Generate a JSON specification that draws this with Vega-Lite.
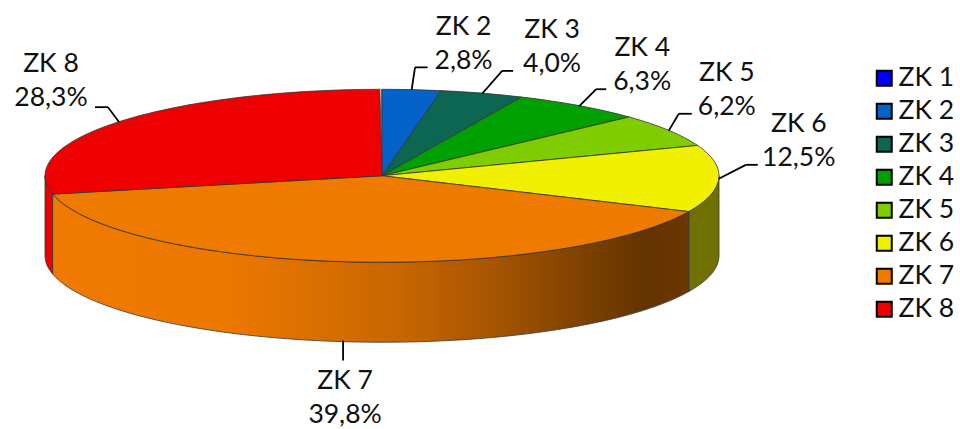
{
  "$schema": "https://vega.github.io/schema/vega-lite/v6.json",
  "autosize": {"type": "fit", "contains": "padding"},
  "width": 960,
  "height": 429,
  "padding": 0,
  "background": "white",
  "config": {"view": {"stroke": null}, "font": "Lato"},
  "data": {
    "values": [
      {"slice": "ZK 1", "share": 0},
      {"slice": "ZK 2", "share": 2.8},
      {"slice": "ZK 3", "share": 4.0},
      {"slice": "ZK 4", "share": 6.3},
      {"slice": "ZK 5", "share": 6.2},
      {"slice": "ZK 6", "share": 12.5},
      {"slice": "ZK 7", "share": 39.8},
      {"slice": "ZK 8", "share": 28.3}
    ]
  },
  "params": [
    {"name": "rx", "value": 337},
    {"name": "ry", "value": 86.5},
    {"name": "depth", "value": 80}
  ],
  "transform": [
    {"window": [{"op": "sum", "field": "share", "as": "cum"}], "sort": [{"field": "slice"}]},
    {"calculate": "2 * PI * (datum.cum - datum.share) / 100", "as": "t0"},
    {"calculate": "2 * PI * datum.cum / 100", "as": "t1"},
    {"calculate": "(datum.t0 + datum.t1) / 2", "as": "tm"},
    {"calculate": "max(datum.t0, PI / 2)", "as": "w0"},
    {"calculate": "min(datum.t1, 3 * PI / 2)", "as": "w1"},
    {"calculate": "round(100 * rx * sin(datum.t0)) / 100 + ',' + round(-100 * ry * cos(datum.t0)) / 100", "as": "p0"},
    {"calculate": "round(100 * rx * sin(datum.t1)) / 100 + ',' + round(-100 * ry * cos(datum.t1)) / 100", "as": "p1"},
    {"calculate": "'M0,0L' + datum.p0 + 'A' + rx + ',' + ry + ' 0 0 1 ' + datum.p1 + 'Z'", "as": "wedge"},
    {"calculate": "round(100 * rx * sin(datum.w0)) / 100", "as": "wx0"},
    {"calculate": "round(100 * rx * sin(datum.w1)) / 100", "as": "wx1"},
    {"calculate": "round(-100 * ry * cos(datum.w0)) / 100", "as": "wy0"},
    {"calculate": "round(-100 * ry * cos(datum.w1)) / 100", "as": "wy1"},
    {"calculate": "'M' + datum.wx0 + ',' + datum.wy0 + 'A' + rx + ',' + ry + ' 0 0 1 ' + datum.wx1 + ',' + datum.wy1 + 'L' + datum.wx1 + ',' + (datum.wy1 + depth) + 'A' + rx + ',' + ry + ' 0 0 0 ' + datum.wx0 + ',' + (datum.wy0 + depth) + 'Z'", "as": "wall"},
    {"calculate": "{'ZK 2':[0,3.4,-23,16,52,-56],'ZK 3':[0,20,-23,31,70,-56],'ZK 4':[0,17,-17,27,63,-50],'ZK 5':[0,10,-17,23,58,-50],'ZK 6':[0,27,-14,39,80,-47],'ZK 7':[80,-3,100,-3,-1,129],'ZK 8':[0,-11,-15,-24,-68,-50]}[datum.slice]", "as": "callout"},
    {"calculate": "rx * sin(datum.tm)", "as": "rimX"},
    {"calculate": "-ry * cos(datum.tm)", "as": "rimY"},
    {"calculate": "datum.callout ? datum.rimX + (datum.slice == 'ZK 7' ? -3 : 0) : null", "as": "startX"},
    {"calculate": "datum.callout ? datum.rimY + datum.callout[0] : null", "as": "startY"},
    {"calculate": "datum.callout ? datum.rimX + datum.callout[1] : null", "as": "elbowX"},
    {"calculate": "datum.callout ? datum.rimY + datum.callout[2] : null", "as": "elbowY"},
    {"calculate": "datum.callout ? datum.rimX + datum.callout[3] : null", "as": "endX"},
    {"calculate": "datum.callout ? datum.rimX + datum.callout[4] : null", "as": "labelX"},
    {"calculate": "datum.callout ? datum.rimY + datum.callout[5] : null", "as": "labelY"},
    {"calculate": "datum.slice + '\\n' + replace(format(datum.share, '.1f'), '.', ',') + '%'", "as": "label"}
  ],
  "layer": [
    {
      "description": "Side wall of the ZK 6 slice",
      "transform": [{"filter": "datum.slice == 'ZK 6'"}],
      "mark": {"type": "point", "filled": true, "size": 4, "opacity": 1, "fill": "#707000", "stroke": "#333333", "strokeWidth": 0.8},
      "encoding": {
        "x": {"datum": 0, "type": "quantitative", "axis": null, "scale": {"domain": [-382, 578]}},
        "y": {"datum": 0, "type": "quantitative", "axis": null, "scale": {"domain": [252, -177]}},
        "shape": {"field": "wall", "type": "nominal", "scale": null, "legend": null}
      }
    },
    {
      "description": "Side wall of the ZK 8 slice",
      "transform": [{"filter": "datum.slice == 'ZK 8'"}],
      "mark": {"type": "point", "filled": true, "size": 4, "opacity": 1, "fill": "#EE0000", "stroke": "#333333", "strokeWidth": 0.8},
      "encoding": {
        "x": {"datum": 0, "type": "quantitative", "axis": null, "scale": {"domain": [-382, 578]}},
        "y": {"datum": 0, "type": "quantitative", "axis": null, "scale": {"domain": [252, -177]}},
        "shape": {"field": "wall", "type": "nominal", "scale": null, "legend": null}
      }
    },
    {
      "description": "Side wall of the ZK 7 slice, shaded towards the right",
      "transform": [{"filter": "datum.slice == 'ZK 7'"}],
      "mark": {
        "type": "point", "filled": true, "size": 4, "opacity": 1, "stroke": "#333333", "strokeWidth": 0.8,
        "fill": {
          "gradient": "linear", "x1": 0, "y1": 0, "x2": 1, "y2": 0,
          "stops": [
            {"offset": 0, "color": "#EE7A00"},
            {"offset": 0.27, "color": "#ED7800"},
            {"offset": 0.55, "color": "#C86600"},
            {"offset": 0.7, "color": "#A45400"},
            {"offset": 0.85, "color": "#783F00"},
            {"offset": 0.93, "color": "#633300"},
            {"offset": 1, "color": "#6C3700"}
          ]
        }
      },
      "encoding": {
        "x": {"datum": 0, "type": "quantitative", "axis": null, "scale": {"domain": [-382, 578]}},
        "y": {"datum": 0, "type": "quantitative", "axis": null, "scale": {"domain": [252, -177]}},
        "shape": {"field": "wall", "type": "nominal", "scale": null, "legend": null}
      }
    },
    {
      "description": "Top face of the pie, one wedge per share",
      "mark": {"type": "point", "filled": true, "size": 4, "opacity": 1, "stroke": "#333333", "strokeWidth": 0.8},
      "encoding": {
        "x": {"datum": 0, "type": "quantitative", "axis": null, "scale": {"domain": [-382, 578]}},
        "y": {"datum": 0, "type": "quantitative", "axis": null, "scale": {"domain": [252, -177]}},
        "shape": {"field": "wedge", "type": "nominal", "scale": null, "legend": null},
        "fill": {
          "field": "slice", "type": "nominal",
          "scale": {
            "domain": ["ZK 1", "ZK 2", "ZK 3", "ZK 4", "ZK 5", "ZK 6", "ZK 7", "ZK 8"],
            "range": ["#0000F0", "#0562C8", "#0C6652", "#00A000", "#7FCC00", "#F0F000", "#EE7A00", "#EE0000"]
          },
          "legend": {
            "title": null,
            "orient": "none",
            "legendX": 871,
            "legendY": 65,
            "symbolType": "square",
            "symbolSize": 225,
            "symbolStrokeColor": "black",
            "symbolStrokeWidth": 2,
            "symbolOpacity": 1,
            "labelFont": "Lato",
            "labelFontSize": 26.5,
            "labelColor": "#111111",
            "labelOffset": 1,
            "rowPadding": 6,
            "padding": 0
          }
        }
      }
    },
    {
      "description": "Leader lines, rim to elbow",
      "transform": [{"filter": "datum.callout"}],
      "mark": {"type": "rule", "color": "black", "strokeWidth": 1.8},
      "encoding": {
        "x": {"field": "startX", "type": "quantitative", "axis": null, "scale": {"domain": [-382, 578]}},
        "y": {"field": "startY", "type": "quantitative", "axis": null, "scale": {"domain": [252, -177]}},
        "x2": {"field": "elbowX"},
        "y2": {"field": "elbowY"}
      }
    },
    {
      "description": "Leader lines, elbow to label",
      "transform": [{"filter": "datum.callout && datum.slice != 'ZK 7'"}],
      "mark": {"type": "rule", "color": "black", "strokeWidth": 1.8},
      "encoding": {
        "x": {"field": "elbowX", "type": "quantitative", "axis": null, "scale": {"domain": [-382, 578]}},
        "y": {"field": "elbowY", "type": "quantitative", "axis": null, "scale": {"domain": [252, -177]}},
        "x2": {"field": "endX"}
      }
    },
    {
      "description": "Slice name and share above each leader",
      "transform": [{"filter": "datum.callout"}],
      "mark": {"type": "text", "font": "Lato", "fontSize": 26.5, "color": "#111111", "align": "center", "baseline": "alphabetic", "lineBreak": "\n", "lineHeight": 34},
      "encoding": {
        "x": {"field": "labelX", "type": "quantitative", "axis": null, "scale": {"domain": [-382, 578]}},
        "y": {"field": "labelY", "type": "quantitative", "axis": null, "scale": {"domain": [252, -177]}},
        "text": {"field": "label", "type": "nominal"}
      }
    }
  ]
}
